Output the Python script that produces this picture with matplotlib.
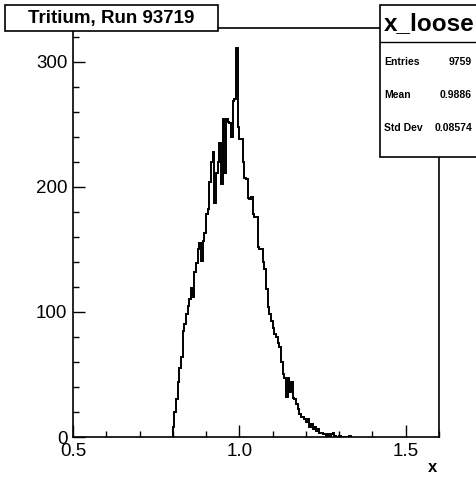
import numpy as np
import matplotlib
matplotlib.use("Agg")
import matplotlib.pyplot as plt
from matplotlib.patches import Rectangle
from matplotlib.ticker import MultipleLocator

plt.rcParams['font.family'] = ['Liberation Sans', 'DejaVu Sans']

# histogram, bins of 0.005 starting at x = 0.800
bin_start = 0.800
bin_width = 0.005
counts = [
    8, 20, 30, 44, 55, 64, 85, 90, 98, 105,          # 0.800 - 0.845
    110, 119, 112, 132, 139, 150, 155, 141, 157, 163,  # 0.850 - 0.895
    178, 182, 204, 220, 228, 187, 211, 220, 235, 202,  # 0.900 - 0.945
    254, 211, 254, 252, 251, 240, 269, 270, 311, 248,  # 0.950 - 0.995
    238, 238, 220, 207, 206, 191, 190, 192, 178, 176,  # 1.000 - 1.045
    176, 152, 150, 150, 140, 134, 118, 104, 98, 93,    # 1.050 - 1.095
    87, 82, 80, 75, 72, 60, 50, 47, 32, 47,            # 1.100 - 1.145
    36, 44, 31, 30, 26, 22, 18, 16, 16, 14,            # 1.150 - 1.195
    12, 14, 8, 10, 6, 8, 5, 6, 3, 3,                   # 1.200 - 1.245
    2, 2, 1, 2, 1, 2, 3, 1, 0, 0,                      # 1.250 - 1.295
    1, 0, 0, 0, 0, 0, 1,                               # 1.300 - 1.330
]

title = "Tritium, Run 93719"
hist_name = "x_loose"
stat_names = ["Entries", "Mean", "Std Dev"]
stat_values = ["9759", "0.9886", "0.08574"]

W, H = 476, 480
fig = plt.figure(figsize=(W / 100, H / 100), dpi=100)

def fx(px):
    return px / W

def fy(py):
    return 1 - py / H

ax = fig.add_axes([fx(73), fy(437), fx(439) - fx(73), fy(28) - fy(437)])

edges = bin_start + bin_width * np.arange(len(counts) + 1)
ax.stairs(counts, edges, color='black', linewidth=1.4)

ax.set_xlim(0.5, 1.6)
ax.set_ylim(0, 327)
ax.xaxis.set_major_locator(MultipleLocator(0.5))
ax.xaxis.set_minor_locator(MultipleLocator(0.1))
ax.yaxis.set_major_locator(MultipleLocator(100))
ax.yaxis.set_minor_locator(MultipleLocator(20))
ax.set_xticks([0.5, 1.0, 1.5])
ax.set_xticklabels(["0.5", "1.0", "1.5"])
ax.tick_params(which='both', direction='in', top=False, right=False,
               width=1.0, labelsize=13.5)
ax.tick_params(which='major', length=8.6, pad=4)
ax.tick_params(which='minor', length=4.3)
for s in ax.spines.values():
    s.set_linewidth(1.2)

fig.text(fx(433), fy(467), "x", fontsize=12, fontweight='bold',
         ha='center', va='center')

# title box
fig.patches.append(Rectangle((fx(5), fy(31)), fx(218) - fx(5), fy(5) - fy(31),
                             transform=fig.transFigure, facecolor='white',
                             edgecolor='black', linewidth=1.2, zorder=5))
fig.text(fx(111), fy(18), title, fontsize=13.5, fontweight='bold',
         ha='center', va='center', zorder=6)

# stats box
fig.patches.append(Rectangle((fx(380), fy(157)), fx(490) - fx(380), fy(5) - fy(157),
                             transform=fig.transFigure, facecolor='white',
                             edgecolor='black', linewidth=1.2, zorder=5))
fig.lines.append(plt.Line2D([fx(380), fx(476)], [fy(42), fy(42)],
                            transform=fig.transFigure, color='black',
                            linewidth=1.0, zorder=6))
fig.text(fx(384), fy(24), hist_name, fontsize=17.5, fontweight='bold',
         ha='left', va='center', zorder=6)
row_y = [62, 95, 128]
for name, val, yy in zip(stat_names, stat_values, row_y):
    fig.text(fx(384), fy(yy), name, fontsize=7.5, fontweight='bold',
             ha='left', va='center', zorder=6)
    fig.text(fx(472), fy(yy), val, fontsize=7.5, fontweight='bold',
             ha='right', va='center', zorder=6)

fig.savefig("out.png", dpi=100)
